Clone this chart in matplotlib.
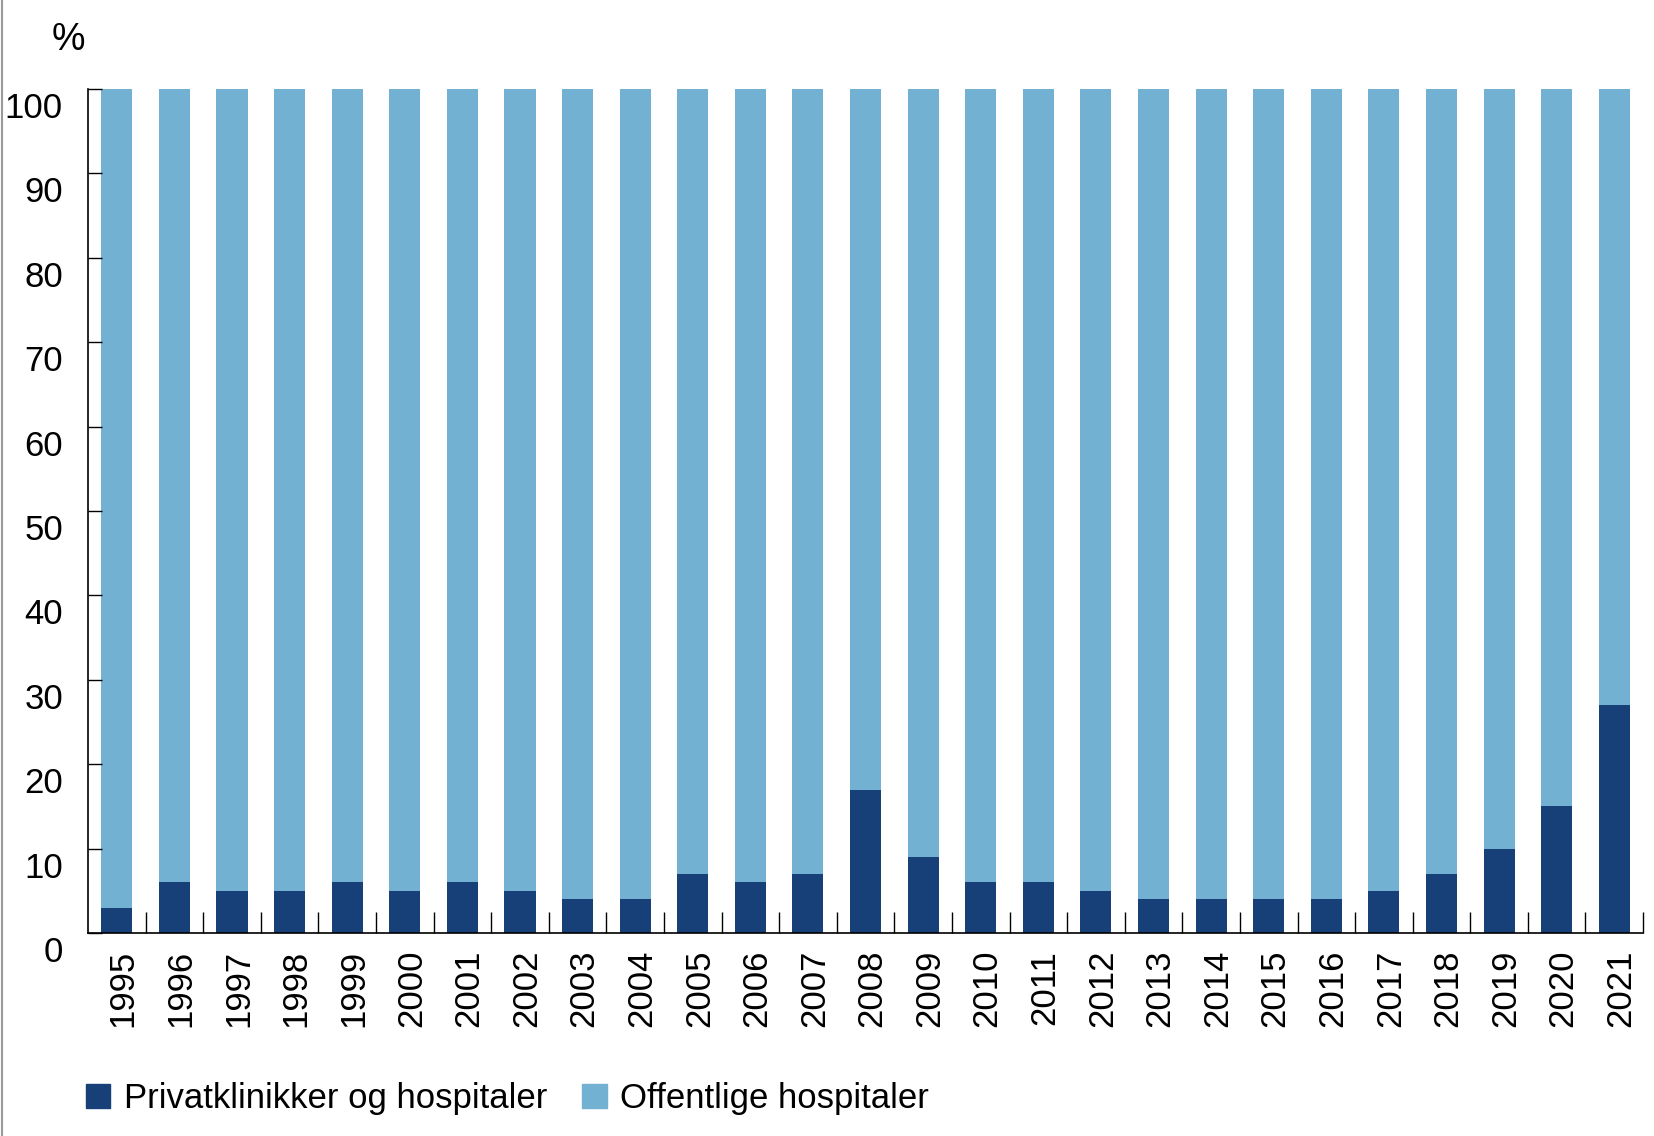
import matplotlib
matplotlib.use("Agg")
import matplotlib.pyplot as plt
from matplotlib.transforms import ScaledTranslation
from matplotlib.lines import Line2D
from matplotlib.patches import Patch

years = [str(y) for y in range(1995, 2022)]
private = [3, 6, 5, 5, 6, 5, 6, 5, 4, 4, 7, 6, 7, 17, 9, 6, 6, 5, 4, 4, 4, 4, 5, 7, 10, 15, 27]
public = [100 - p for p in private]
yticks = [0, 10, 20, 30, 40, 50, 60, 70, 80, 90, 100]

DARK = "#173f78"
LIGHT = "#72b1d2"


def main():
    plt.rcParams['font.family'] = ['Liberation Sans', 'DejaVu Sans']
    fig = plt.figure(figsize=(16.54, 11.36), dpi=100)
    ax = fig.add_axes([0.0532, 0.1787, 0.9402, 0.743])

    x = list(range(len(years)))
    ax.bar(x, private, width=0.54, color=DARK, label='Privatklinikker og hospitaler')
    ax.bar(x, public, width=0.54, bottom=private, color=LIGHT, label='Offentlige hospitaler')

    ax.set_xlim(-0.5, len(years) - 0.5)
    ax.set_ylim(0, 100)
    for s in ['top', 'right']:
        ax.spines[s].set_visible(False)
    for s in ['left', 'bottom']:
        ax.spines[s].set_linewidth(1.2)

    ax.set_yticks(yticks)
    ax.set_yticklabels([str(v) for v in yticks], fontsize=25)
    ax.tick_params(axis='y', direction='in', length=10, width=1.0, pad=18)
    off = ScaledTranslation(0, -0.16, fig.dpi_scale_trans)
    for lab in ax.get_yticklabels():
        lab.set_transform(lab.get_transform() + off)

    ax.set_xticks(x)
    ax.set_xticklabels(years, rotation=90, fontsize=25)
    ax.tick_params(axis='x', which='major', length=0, pad=12)
    xoff = ScaledTranslation(0.065, 0, fig.dpi_scale_trans)
    for lab in ax.get_xticklabels():
        lab.set_transform(lab.get_transform() + xoff)
    ax.set_xticks([i + 0.5 for i in x], minor=True)
    ax.tick_params(axis='x', which='minor', direction='in', length=15, width=1.0)

    fig.text(0.031, 0.965, '%', fontsize=27, va='center', ha='left')

    handles = [Patch(color=DARK), Patch(color=LIGHT)]
    fig.legend(handles, ['Privatklinikker og hospitaler', 'Offentlige hospitaler'],
               loc='center left', bbox_to_anchor=(0.052, 0.033), ncol=2, frameon=False,
               fontsize=25, handlelength=0.7, handleheight=0.7, handletextpad=0.4,
               columnspacing=1.0, borderpad=0, borderaxespad=0)

    fig.add_artist(Line2D([0.0015, 0.0015], [0, 1], color='#999999', linewidth=1.5,
                          transform=fig.transFigure))

    fig.savefig('out.png', dpi=100)


if __name__ == '__main__':
    main()
